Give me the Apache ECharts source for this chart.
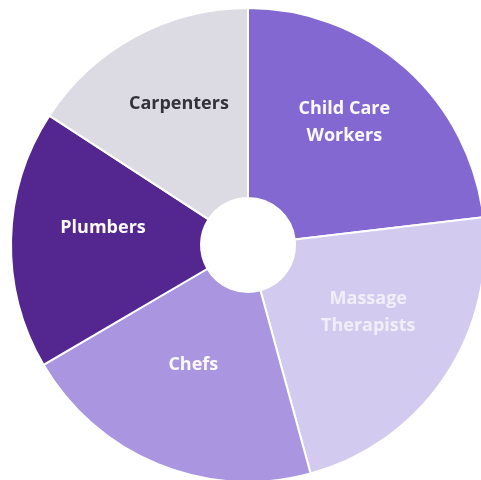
<!DOCTYPE html>
<html>
<head>
<meta charset="utf-8">
<script src="https://cdn.jsdelivr.net/npm/echarts@6/dist/echarts.min.js"></script>
<style>
html,body{margin:0;padding:0;background:#ffffff;}
#main{width:481px;height:480px;}
</style>
</head>
<body>
<div id="main"></div>
<script>
const categories = ["Child Care\nWorkers", "Massage\nTherapists", "Chefs", "Plumbers", "Carpenters"];
const values = [23.1, 22.6, 20.8, 17.6, 15.8];
const colors = ["#8468d1", "#d3caf0", "#a995e0", "#54268f", "#dcdbe3"];
const labelColors = ["#fbfaff", "#f1eefa", "#fbfaff", "#fbfaff", "#33323a"];

const chart = echarts.init(document.getElementById('main'), null, {renderer: 'canvas'});
const data = categories.map((c, i) => ({
  name: c,
  value: values[i],
  itemStyle: {color: colors[i]},
  label: {color: labelColors[i]}
}));
chart.setOption({
  backgroundColor: '#ffffff',
  animation: false,
  series: [{
    type: 'pie',
    center: [248, 245],
    radius: [47, 237],
    startAngle: 90,
    clockwise: true,
    avoidLabelOverlap: false,
    itemStyle: {borderColor: '#ffffff', borderWidth: 2},
    label: {
      show: true,
      position: 'inside',
      formatter: '{b}',
      fontFamily: 'Open Sans',
      fontWeight: 'bold',
      fontSize: 18,
      lineHeight: 27,
      offset: [0, -14]
    },
    labelLine: {show: false},
    emphasis: {disabled: true},
    data: data
  }]
});
</script>
</body>
</html>
